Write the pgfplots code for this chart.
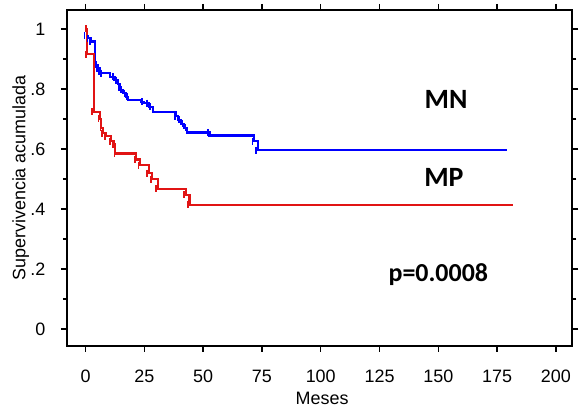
\documentclass[border=0pt]{standalone}
\usepackage{pgfplots}
\pgfplotsset{compat=1.18}
\usepackage{fontspec}
\setmainfont{Liberation Sans}
\newfontfamily\calib{Carlito}
\definecolor{mnblue}{RGB}{0,0,255}
\definecolor{mpred}{RGB}{225,20,20}

\begin{document}
\begin{tikzpicture}
\begin{axis}[
    width=507pt, height=337pt, scale only axis,
    xmin=-8, xmax=207, ymin=-0.056, ymax=1.063,
    xtick={0,25,...,200},
    ytick={0,0.2,0.4,0.6,0.8,1},
    yticklabels={0,.2,.4,.6,.8,1},
    minor ytick={0.1,0.3,0.5,0.7,0.9},
    xtick pos=both, ytick pos=both,
    tick align=outside,
    major tick length=6pt, minor tick length=4pt,
    axis line style={line width=2pt},
    every tick/.style={line width=1.4pt, black},
    tick label style={font=\fontsize{18}{21}\selectfont},
    /pgf/number format/assume math mode=true,
    xticklabel shift=15pt,
    yticklabel shift=12pt,
    label style={font=\fontsize{18}{21}\selectfont},
    xlabel={Meses},
    ylabel={Supervivencia acumulada},
    xlabel style={at={(axis description cs:0.505,-0.157)}, anchor=center},
    ylabel style={at={(axis description cs:-0.091,0.5)}, anchor=center},
    clip=false,
]
% MN
\addplot[const plot, mnblue, line width=2.1pt] coordinates {
(0,1.0)(0.5,0.977)(1.0,0.969)(2.4,0.958)(3.8,0.886)(4.5,0.880)(5.2,0.869)
(5.9,0.858)(6.7,0.853)(10.5,0.840)(12.3,0.829)(13.7,0.817)(14.4,0.797)
(15.8,0.786)(17.3,0.774)(18.0,0.764)(23.6,0.758)(25.0,0.753)(26.9,0.740)
(28.6,0.722)(38.5,0.709)(39.2,0.698)(40.6,0.684)(42.0,0.670)(43.0,0.655)
(52.7,0.645)(71.8,0.626)(73.2,0.596)(179.2,0.596)
};
\addplot[only marks, mark=|, mark size=3.5pt, mnblue, line width=1.8pt] coordinates {
(-0.5,0.977)(0.8,0.969)(2.0,0.958)(4.3,0.880)(5.0,0.869)(5.7,0.858)
(6.5,0.853)(11.5,0.840)(12.8,0.829)(14.0,0.817)(15.0,0.797)(16.5,0.786)
(17.7,0.774)(24.0,0.758)(26.0,0.753)(27.5,0.740)(38.0,0.709)(39.8,0.698)
(41.2,0.684)(42.5,0.670)(52.0,0.655)(71.0,0.626)(72.5,0.596)
};
% MP
\addplot[const plot, mpred, line width=2.1pt] coordinates {
(0,1.0)(0.6,0.915)(3.5,0.724)(6.0,0.700)(6.7,0.670)(7.4,0.653)(8.8,0.642)
(10.9,0.626)(12.0,0.615)(12.6,0.585)(21.5,0.565)(23.0,0.546)(27.0,0.520)
(28.3,0.500)(30.7,0.468)(42.7,0.448)(44.2,0.415)(181.7,0.415)
};
\addplot[only marks, mark=|, mark size=3.5pt, mpred, line width=1.8pt] coordinates {
(0,1.0)(0,0.915)(2.8,0.724)(5.5,0.700)(6.3,0.670)(7.0,0.653)(8.3,0.642)
(10.3,0.626)(11.6,0.615)(12.3,0.585)(21.0,0.565)(22.5,0.546)(26.0,0.520)
(27.8,0.500)(30.0,0.468)(42.0,0.448)(43.7,0.415)
};
\node[font=\calib\bfseries\fontsize{28}{32}\selectfont] at (axis cs:153.3,0.764) {MN};
\node[font=\calib\bfseries\fontsize{28}{32}\selectfont] at (axis cs:152.4,0.505) {MP};
\node[font=\calib\bfseries\fontsize{26}{30}\selectfont] at (axis cs:150,0.183) {p=0.0008};
% page margins as in the reference
\path (rel axis cs:0,0) ++(-67pt,-67pt) (rel axis cs:1,1) ++(5pt,10pt);
\end{axis}
\end{tikzpicture}
\end{document}
